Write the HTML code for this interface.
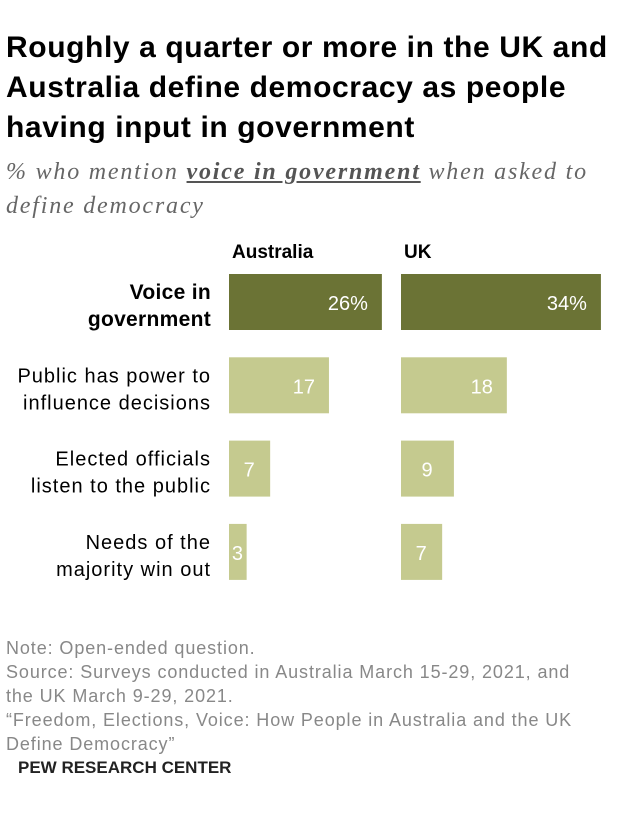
<!DOCTYPE html>
<html><head><meta charset="utf-8"><style>
body{margin:0;width:620px;height:814px;background:#fff;font-family:"Liberation Sans",sans-serif;overflow:hidden;position:relative}
.t{position:absolute;left:6px;top:28px;font-size:30px;font-weight:bold;line-height:40px;color:#000;width:614px;letter-spacing:0.6px}
.sub{position:absolute;left:6px;top:155px;font-family:"Liberation Serif",serif;font-style:italic;font-size:24px;line-height:34px;color:#666;letter-spacing:1.8px;white-space:nowrap}
.sub b{text-decoration:underline;color:#555}
.note{position:absolute;left:6px;top:636px;font-size:18px;line-height:24px;color:#888;letter-spacing:0.9px;white-space:nowrap}
.pew{position:absolute;left:18px;top:758px;font-size:17px;font-weight:bold;color:#222}
</style></head><body>
<div class="t">Roughly a quarter or more in the UK and Australia define democracy as people having input in government</div>
<div class="sub">% who mention <b>voice in government</b> when asked to<br>define democracy</div>
<svg width="620" height="600" style="position:absolute;left:0;top:0" id="chart"></svg>
<div class="note">Note: Open-ended question.<br>Source: Surveys conducted in Australia March 15-29, 2021, and<br>the UK March 9-29, 2021.<br>“Freedom, Elections, Voice: How People in Australia and the UK<br>Define Democracy”</div>
<div class="pew">PEW RESEARCH CENTER</div>
<script>
const categories=[["Voice in","government"],["Public has power to","influence decisions"],["Elected officials","listen to the public"],["Needs of the","majority win out"]];
const countries=["Australia","UK"];
const australia=[26,17,7,3];
const uk=[34,18,9,7];
const series=[australia,uk];
const NS="http://www.w3.org/2000/svg";
const svg=document.getElementById('chart');
const scale=5.88, starts=[229,401], rowTop=274, rowStep=83.3, barH=56;
function x(v,c){return starts[c]+v*scale;}
function y(i){return rowTop+i*rowStep;}
function mk(tag,attrs,txt){const e=document.createElementNS(NS,tag);for(const k in attrs)e.setAttribute(k,attrs[k]);if(txt!==undefined)e.textContent=txt;svg.appendChild(e);return e;}
countries.forEach((c,ci)=>{
  const t=mk('text',{x:starts[ci]+3,y:258,'font-size':19,'font-weight':'bold','font-family':'Liberation Sans,sans-serif',fill:'#000'},c);
  
  
});
categories.forEach((cat,i)=>{
  const bold=i===0;
  cat.forEach((ln,li)=>{
    const t=mk('text',{x:211,y:y(i)+25+li*27,'text-anchor':'end','font-size':bold?21:20,'letter-spacing':bold?0.3:1.0,'font-weight':bold?'bold':'normal','font-family':'Liberation Sans,sans-serif',fill:'#000'},ln);
    
    
  });
  series.forEach((s,ci)=>{
    const v=s[i];
    const r=mk('rect',{x:starts[ci],y:y(i),width:x(v,ci)-starts[ci],height:barH,fill:bold?'#6b7335':'#c5ca8f'});
    
    
    const lbl=bold?v+'%':String(v);
    const w=x(v,ci)-starts[ci];
    let attrs={y:y(i)+36,'font-size':20,'font-family':'Liberation Sans,sans-serif',fill:'#fff'};
    if(w>60){attrs.x=x(v,ci)-14;attrs['text-anchor']='end';}
    else{attrs.x=starts[ci]+Math.max(0,w/2-6);attrs['text-anchor']='start';}
    const t=mk('text',attrs,lbl);
    
    
  });
});
</script>
</body></html>
